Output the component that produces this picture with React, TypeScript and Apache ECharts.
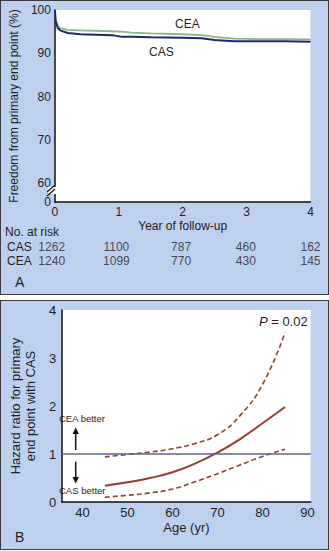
import React, { useEffect, useRef } from 'react';
import * as echarts from 'echarts';

// ---- Panel A: Kaplan-Meier freedom from primary end point ----
const kmYears = [0, 0.01, 0.04, 0.08, 0.2, 0.4, 0.9, 1.05, 1.2, 1.5, 2.0, 2.3, 2.5, 2.8, 3.2, 3.6, 4.0];
const casSurvival = [100, 97.5, 96.0, 95.3, 94.7, 94.4, 94.2, 93.8, 93.8, 93.7, 93.6, 93.5, 93.1, 92.8, 92.8, 92.8, 92.7];
const ceaSurvival = [100, 97.9, 96.5, 95.8, 95.4, 95.3, 95.1, 95.0, 94.8, 94.6, 94.4, 94.2, 93.8, 93.4, 93.3, 93.3, 93.2];
const survivalTicks = [60, 70, 80, 90, 100];
const survivalBreakValue = 55.7; // shown as "0" below the axis break
const riskYears = [0, 1, 2, 3, 4];
const casAtRisk = [1262, 1100, 787, 460, 162];
const ceaAtRisk = [1240, 1099, 770, 430, 145];
const riskRows = ['CAS', 'CEA'];

// ---- Panel B: hazard ratio by age ----
const ages = [45, 50, 55, 60, 65, 70, 75, 80, 85];
const hazardRatio = [0.34, 0.41, 0.5, 0.62, 0.8, 1.03, 1.31, 1.64, 1.98];
const hazardUpper = [0.94, 0.99, 1.04, 1.11, 1.22, 1.4, 1.8, 2.45, 3.53];
const hazardLower = [0.1, 0.14, 0.19, 0.27, 0.42, 0.59, 0.77, 0.95, 1.1];
const ageTicks = [40, 50, 60, 70, 80, 90];
const referenceHR = 1;

const FONT = '"Liberation Sans", Arial, Helvetica, sans-serif';
const TXT = '#1e1e1e';
const BROWN = '#9a3c2a';
const AXIS = { lineStyle: { color: '#111', width: 1.5 } };

function txt(text: string, x: number, y: number, size: number, align = 'left', extra: any = {}) {
  return {
    type: 'text',
    x,
    y,
    silent: true,
    style: {
      text,
      fill: TXT,
      fontSize: size,
      fontFamily: FONT,
      align,
      textAlign: align,
      verticalAlign: 'middle',
      textVerticalAlign: 'middle',
      ...extra,
    },
  };
}

export default function App() {
  const ref = useRef<HTMLDivElement>(null);

  useEffect(() => {
    if (!ref.current) return;
    const chart = echarts.init(ref.current, undefined, { renderer: 'svg' });

    const option: any = {
      animation: false,
      textStyle: { fontFamily: FONT },
      grid: [
        { left: 51.7, top: 10, width: 258.8, height: 192, show: true, backgroundColor: '#fff', borderWidth: 0 },
        { left: 51.7, top: 239.7, width: 258.8, height: 28 },
        { left: 56, top: 310, width: 254.7, height: 192, show: true, backgroundColor: '#fff', borderWidth: 0 },
      ],
      xAxis: [
        {
          gridIndex: 0, type: 'value', min: 0, max: 4, interval: 1,
          axisLine: AXIS, axisTick: { show: false }, splitLine: { show: false },
          axisLabel: { fontSize: 12, color: TXT, margin: 4, fontFamily: FONT },
          name: 'Year of follow-up', nameLocation: 'middle', nameGap: 18,
          nameTextStyle: { fontSize: 12, color: TXT, fontFamily: FONT },
        },
        { gridIndex: 1, type: 'value', min: 0, max: 4, show: false },
        {
          gridIndex: 2, type: 'value', min: 35.5, max: 90.7,
          axisLine: AXIS, axisTick: { show: false }, splitLine: { show: false },
          axisLabel: { customValues: ageTicks, fontSize: 13, color: TXT, margin: 4, fontFamily: FONT },
          name: 'Age (yr)', nameLocation: 'middle', nameGap: 19,
          nameTextStyle: { fontSize: 13, color: TXT, fontFamily: FONT },
        },
      ],
      yAxis: [
        {
          gridIndex: 0, type: 'value', min: survivalBreakValue, max: 100,
          axisLine: AXIS, axisTick: { show: false }, splitLine: { show: false },
          axisLabel: {
            customValues: [survivalBreakValue, ...survivalTicks],
            formatter: (v: number) => (v < survivalTicks[0] ? '0' : String(v)),
            fontSize: 12, color: TXT, margin: 4, fontFamily: FONT,
          },
          name: 'Freedom from primary end point (%)', nameLocation: 'middle', nameRotate: 90, nameGap: 27,
          nameTextStyle: { fontSize: 12, color: TXT, fontFamily: FONT },
        },
        {
          gridIndex: 1, type: 'category', data: riskRows, inverse: true,
          axisLine: { show: false }, axisTick: { show: false }, splitLine: { show: false },
          axisLabel: { interval: 0, hideOverlap: false, align: 'left', margin: 44.7, fontSize: 12, color: TXT, fontFamily: FONT },
        },
        {
          gridIndex: 2, type: 'value', min: 0, max: 4, interval: 1,
          axisLine: AXIS, axisTick: { show: false }, splitLine: { show: false },
          axisLabel: { fontSize: 13, color: TXT, margin: 6, fontFamily: FONT },
          name: 'Hazard ratio for primary\nend point with CAS', nameLocation: 'middle', nameRotate: 90, nameGap: 13.5,
          nameTextStyle: { fontSize: 13, lineHeight: 15, color: TXT, fontFamily: FONT },
        },
      ],
      series: [
        {
          name: 'CEA', type: 'line', xAxisIndex: 0, yAxisIndex: 0, showSymbol: false,
          data: kmYears.map((x, i) => [x, ceaSurvival[i]]),
          lineStyle: { color: '#8cb883', width: 1.8 }, itemStyle: { color: '#8cb883' },
        },
        {
          name: 'CAS', type: 'line', xAxisIndex: 0, yAxisIndex: 0, showSymbol: false,
          data: kmYears.map((x, i) => [x, casSurvival[i]]),
          lineStyle: { color: '#1b2a6b', width: 2 }, itemStyle: { color: '#1b2a6b' },
        },
        ...[casAtRisk, ceaAtRisk].map((vals, r) => ({
          type: 'scatter', xAxisIndex: 1, yAxisIndex: 1, symbolSize: 1,
          itemStyle: { color: 'transparent' }, silent: true,
          data: riskYears.map((x, i) => [x, riskRows[r], vals[i]]),
          label: {
            show: true, position: 'inside', fontSize: 12, color: TXT, fontFamily: FONT,
            formatter: (p: any) => String(p.value[2]),
          },
        })),
        {
          name: 'HR', type: 'line', xAxisIndex: 2, yAxisIndex: 2, showSymbol: false, smooth: true,
          data: ages.map((a, i) => [a, hazardRatio[i]]),
          lineStyle: { color: BROWN, width: 2 }, itemStyle: { color: BROWN },
          markLine: {
            silent: true, symbol: ['none', 'none'], label: { show: false },
            lineStyle: { color: '#5a62a8', width: 1.5, type: 'solid' },
            data: [{ yAxis: referenceHR }],
          },
        },
        {
          name: 'Upper', type: 'line', xAxisIndex: 2, yAxisIndex: 2, showSymbol: false, smooth: true,
          data: ages.map((a, i) => [a, hazardUpper[i]]),
          lineStyle: { color: BROWN, width: 1.6, type: [5, 3] }, itemStyle: { color: BROWN },
        },
        {
          name: 'Lower', type: 'line', xAxisIndex: 2, yAxisIndex: 2, showSymbol: false, smooth: true,
          data: ages.map((a, i) => [a, hazardLower[i]]),
          lineStyle: { color: BROWN, width: 1.6, type: [5, 3] }, itemStyle: { color: BROWN },
        },
      ],
      graphic: [
        // axis break on panel A
        { type: 'rect', shape: { x: 48, y: 187, width: 8, height: 7 }, style: { fill: '#fff' }, z: 100, silent: true },
        { type: 'rect', shape: { x: 44, y: 187, width: 4, height: 7 }, style: { fill: '#bdd1ee' }, z: 100, silent: true },
        { type: 'line', shape: { x1: 47, y1: 192, x2: 55, y2: 185 }, style: { stroke: '#111', lineWidth: 1.2 }, z: 101, silent: true },
        { type: 'line', shape: { x1: 47, y1: 196, x2: 55, y2: 189 }, style: { stroke: '#111', lineWidth: 1.2 }, z: 101, silent: true },
        txt('CEA', 175, 24, 12),
        txt('CAS', 149, 52, 12),
        txt('No. at risk', 5, 231.7, 12),
        txt('A', 15, 282, 14),
        txt('B', 15, 536.5, 14),
        txt('CEA better', 59, 418, 9.5),
        txt('CAS better', 59, 490.7, 9.5),
        txt('{i|P} = 0.02', 307.7, 321.7, 13, 'right', {
          rich: { i: { fontStyle: 'italic', fontSize: 13, fontFamily: FONT, fill: TXT } },
        }),
        // arrows
        { type: 'line', shape: { x1: 75.7, y1: 450, x2: 75.7, y2: 432 }, style: { stroke: '#111', lineWidth: 1.5 }, z: 101, silent: true },
        { type: 'polygon', shape: { points: [[75.7, 427.5], [72.5, 434], [78.9, 434]] }, style: { fill: '#111' }, z: 101, silent: true },
        { type: 'line', shape: { x1: 75.7, y1: 461.7, x2: 75.7, y2: 479 }, style: { stroke: '#111', lineWidth: 1.5 }, z: 101, silent: true },
        { type: 'polygon', shape: { points: [[75.7, 483.5], [72.5, 477], [78.9, 477]] }, style: { fill: '#111' }, z: 101, silent: true },
      ],
    };

    chart.setOption(option);
    return () => chart.dispose();
  }, []);

  const panel = (top: number, height: number): React.CSSProperties => ({
    position: 'absolute', left: 0, top, width: 329, height,
    background: '#bdd1ee', border: '1.5px solid #3c3c3c', boxSizing: 'border-box',
  });

  return (
    <div style={{ position: 'fixed', left: 0, top: 0, width: 329, height: 551, background: '#fff' }}>
      <div style={panel(0, 295)} />
      <div style={panel(300, 250)} />
      <div ref={ref} style={{ position: 'absolute', left: 0, top: 0, width: 329, height: 551 }} />
    </div>
  );
}
